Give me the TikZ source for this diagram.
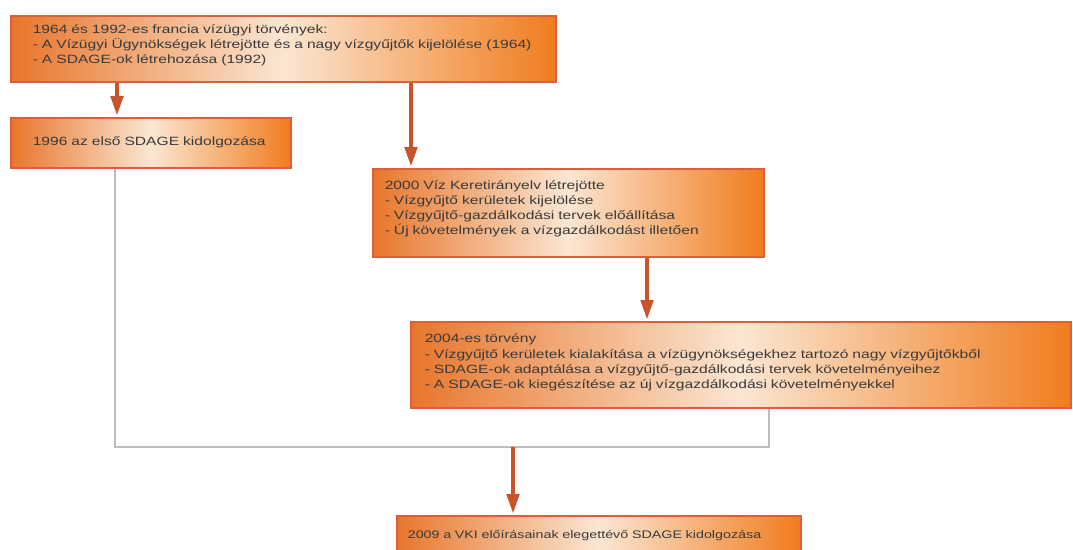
\documentclass[tikz,border=0pt]{standalone}
\usepackage{fontspec}
\setmainfont{Liberation Sans}[FakeStretch=1.3]
\usetikzlibrary{arrows.meta}
\definecolor{boxL}{HTML}{E8762C}
\definecolor{boxM}{HTML}{FBE6D2}
\definecolor{boxR}{HTML}{F07C1E}
\definecolor{boxEdge}{HTML}{DD5E3C}
\definecolor{arrowC}{HTML}{C9532B}
\definecolor{txt}{HTML}{3A3A3A}
\definecolor{lineG}{HTML}{BDBDBD}
\tikzset{
  box/.style={draw=boxEdge, line width=1.6pt, left color=boxL, right color=boxR, middle color=boxM,
    anchor=north west, align=left, inner xsep=#1, inner ysep=0pt, text=txt,
    font=\fontsize{12}{15.2}\selectfont},
  box/.default=14pt,
  flowarrow/.style={draw=arrowC, line width=4.5pt, -{Triangle[length=20pt,width=12pt]}, shorten >=1pt},
  joinline/.style={draw=lineG, line width=1.4pt}
}
\begin{document}
\begin{tikzpicture}[x=1pt,y=-1pt]
\useasboundingbox[fill=white] (0,0) rectangle (1073,549);
% boxes
\node[box=22pt, minimum width=545pt, minimum height=66pt, text width=501pt] (b1) at (10,15)
  {1964 és 1992-es francia vízügyi törvények:\\
   - A Vízügyi Ügynökségek létrejötte és a nagy vízgyűjtők kijelölése (1964)\\
   - A SDAGE-ok létrehozása (1992)\\[-6pt]\mbox{}};
\node[box=22pt, minimum width=280pt, minimum height=50pt, text width=236pt] (b2) at (10,117)
  {1996 az első SDAGE kidolgozása};
\node[box=12pt, minimum width=391pt, minimum height=88pt, text width=367pt] (b3) at (372,168)
  {2000 Víz Keretirányelv létrejötte\\
   - Vízgyűjtő kerületek kijelölése\\
   - Vízgyűjtő-gazdálkodási tervek előállítása\\
   - Új követelmények a vízgazdálkodást illetően\\[-5pt]\mbox{}};
\node[box=14pt, minimum width=660pt, minimum height=86pt, text width=632pt] (b4) at (410,321)
  {2004-es törvény\\
   - Vízgyűjtő kerületek kialakítása a vízügynökségekhez tartozó nagy vízgyűjtőkből\\
   - SDAGE-ok adaptálása a vízgyűjtő-gazdálkodási tervek követelményeihez\\
   - A SDAGE-ok kiegészítése az új vízgazdálkodási követelményekkel\\[-8pt]\mbox{}};
\node[box=11pt, minimum width=404pt, minimum height=40pt, text width=382pt,
      font=\fontsize{11}{14}\selectfont] (b5) at (396,515)
  {2009 a VKI előírásainak elegettévő SDAGE kidolgozása};
% helper coordinates
\coordinate (x1) at (117,0);
\coordinate (x2) at (411,0);
\coordinate (x3) at (647,0);
\coordinate (xl) at (115,0);
\coordinate (xr) at (769,0);
\coordinate (j) at (513,447);
% connectors
\draw[flowarrow] (b1.south -| x1) -- (b2.north -| x1);
\draw[flowarrow] (b1.south -| x2) -- (b3.north -| x2);
\draw[flowarrow] (b3.south -| x3) -- (b4.north -| x3);
\draw[joinline] (b2.south -| xl) |- (j) -| (b4.south -| xr);
\draw[flowarrow] (j) -- (b5.north -| j);
\end{tikzpicture}
\end{document}
